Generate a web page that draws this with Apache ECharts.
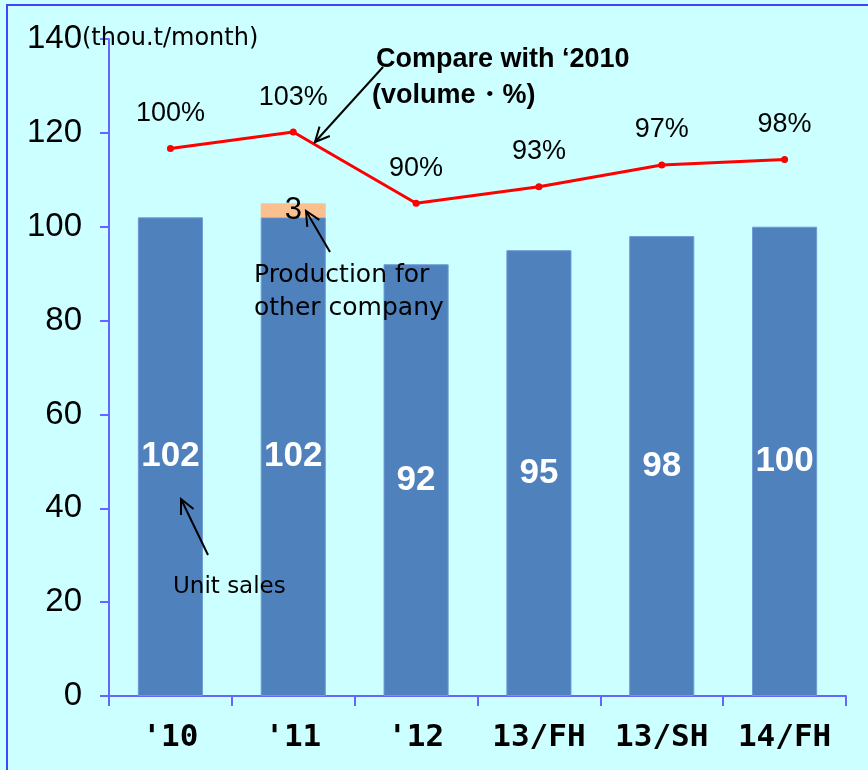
<!DOCTYPE html>
<html>
<head>
<meta charset="utf-8">
<script src="https://cdn.jsdelivr.net/npm/echarts@6/dist/echarts.min.js"></script>
<style>
html,body{margin:0;padding:0;background:#ccffff;}
#chart{width:868px;height:770px;}
</style>
</head>
<body>
<div id="chart"></div>
<script>
// Periods and values
const categories = ["'10", "'11", "'12", "13/FH", "13/SH", "14/FH"];
const unitSales = [102, 102, 92, 95, 98, 100];
const otherCompany = [null, 3, null, null, null, null];
const vs2010 = [100, 103, 90, 93, 97, 98];
const yTicks = [0, 20, 40, 60, 80, 100, 120, 140];

const chart = echarts.init(document.getElementById('chart'), null, {renderer: 'canvas'});
const axisBlue = '#6666ff';
const txt = '#000';

function arrow(x1, y1, x2, y2) {
  const a = Math.atan2(y2 - y1, x2 - x1);
  const L = 16, w = 0.45;
  return [
    {type: 'line', shape: {x1, y1, x2, y2}, style: {stroke: '#000', lineWidth: 2}, z: 100},
    {type: 'polyline', shape: {points: [
      [x2 - L * Math.cos(a - w), y2 - L * Math.sin(a - w)],
      [x2, y2],
      [x2 - L * Math.cos(a + w), y2 - L * Math.sin(a + w)]
    ]}, style: {stroke: '#000', lineWidth: 2, fill: null}, z: 100}
  ];
}

function note(left, top, text, size, extra) {
  return Object.assign({type: 'text', left, top, z: 100,
    style: Object.assign({text, fontSize: size, fill: txt, fontFamily: 'DejaVu Sans'}, extra || {})});
}

chart.setOption({
  backgroundColor: '#ccffff',
  animation: false,
  grid: {left: 109, right: 22, top: 39, bottom: 74},
  xAxis: {
    type: 'category',
    data: categories,
    axisLine: {lineStyle: {color: axisBlue, width: 2}},
    axisTick: {show: true, length: 10, lineStyle: {color: axisBlue, width: 2}},
    axisLabel: {color: txt, fontSize: 31, fontWeight: 'bold', margin: 26, fontFamily: 'DejaVu Sans Mono'}
  },
  yAxis: [{
    type: 'value',
    min: 0, max: 140, interval: 20,
    axisLine: {show: true, lineStyle: {color: axisBlue, width: 2}},
    axisTick: {show: true, length: 9, lineStyle: {color: axisBlue, width: 2}},
    splitLine: {show: false},
    axisLabel: {
      color: txt, fontSize: 33, margin: 27, fontFamily: 'Liberation Sans',
      formatter: v => yTicks.includes(v) ? String(v) : ''
    }
  }, {
    type: 'value', min: 0, max: 120, show: false
  }],
  series: [{
    type: 'bar',
    name: 'Unit sales',
    stack: 'v',
    data: unitSales,
    barWidth: '53%',
    itemStyle: {color: '#4f81bd', borderColor: '#6f9ad6', borderWidth: 1},
    label: {show: true, position: 'inside', color: '#fff', fontSize: 35, fontWeight: 'bold', fontFamily: 'Liberation Sans'}
  }, {
    type: 'bar',
    name: 'Production for other company',
    stack: 'v',
    data: otherCompany,
    itemStyle: {color: '#fac090'},
    label: {show: true, position: 'inside', color: '#000', fontSize: 31, fontFamily: 'Liberation Sans'}
  }, {
    type: 'line',
    name: 'Compare with 2010',
    yAxisIndex: 1,
    data: vs2010,
    lineStyle: {color: '#ff0000', width: 3},
    itemStyle: {color: '#ff0000'},
    symbol: 'circle', symbolSize: 7,
    label: {show: true, position: 'top', distance: 18, color: txt, fontSize: 27, fontFamily: 'Liberation Sans', formatter: p => p.value + '%'},
    z: 5
  }],
  graphic: [
    {type: 'rect', shape: {x: 7, y: 5, width: 900, height: 900}, style: {fill: null, stroke: '#4444ff', lineWidth: 2}, silent: true},
    note(82, 27, '(thou.t/month)', 24),
    note(376, 46, "Compare with \u20182010", 27, {fontWeight: 'bold', fontFamily: 'Liberation Sans'}),
    note(372, 82, '(volume\u30fb%)', 27, {fontWeight: 'bold', fontFamily: 'Liberation Sans'}),
    note(254, 259, 'Production for\nother company', 25, {lineHeight: 33}),
    note(173, 576, 'Unit sales', 23),
    ...arrow(383, 67, 315, 142),
    ...arrow(330, 252, 306, 211),
    ...arrow(208, 555, 181, 499)
  ]
});
</script>
</body>
</html>
